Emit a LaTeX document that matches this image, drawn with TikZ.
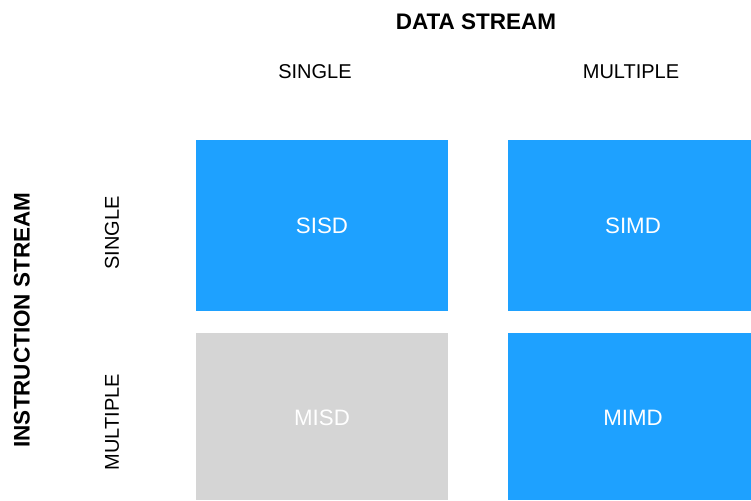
\documentclass[tikz,border=0pt]{standalone}
\usepackage{fontspec}
\setmainfont{Liberation Sans}
\definecolor{cellblue}{RGB}{30,161,255}
\definecolor{cellgray}{RGB}{213,213,213}
\begin{document}
\begin{tikzpicture}[x=1pt,y=-1pt,
  cell/.style={fill=cellblue,draw=none},
  grey/.style={fill=cellgray,draw=none},
  celltext/.style={text=white,font=\fontsize{22.3}{25}\selectfont},
  head/.style={font=\bfseries\fontsize{22.5}{25}\selectfont},
  sub/.style={font=\fontsize{20}{23}\selectfont}]
\useasboundingbox (0,0) rectangle (751,500);
\fill[cell] (196,140) rectangle (448,311);
\fill[cell] (508,140) rectangle (751,311);
\fill[grey] (196,333) rectangle (448,500);
\fill[cell] (508,333) rectangle (751,500);
\node[celltext] (sisd) at (322,226) {SISD};
\node[celltext] (simd) at (633,226) {SIMD};
\node[celltext] (misd) at (322,418) {MISD};
\node[celltext] (mimd) at (633,418) {MIMD};
\node[head] (data) at (476,22) {DATA STREAM};
\node[sub] (dsingle) at (315,72) {SINGLE};
\node[sub] (dmult) at (631,72) {MULTIPLE};
\node[head,rotate=90] (instr) at (22,320) {INSTRUCTION STREAM};
\node[sub,rotate=90] (isingle) at (112,233) {SINGLE};
\node[sub,rotate=90] (imult) at (112,422) {MULTIPLE};
\end{tikzpicture}
\end{document}
